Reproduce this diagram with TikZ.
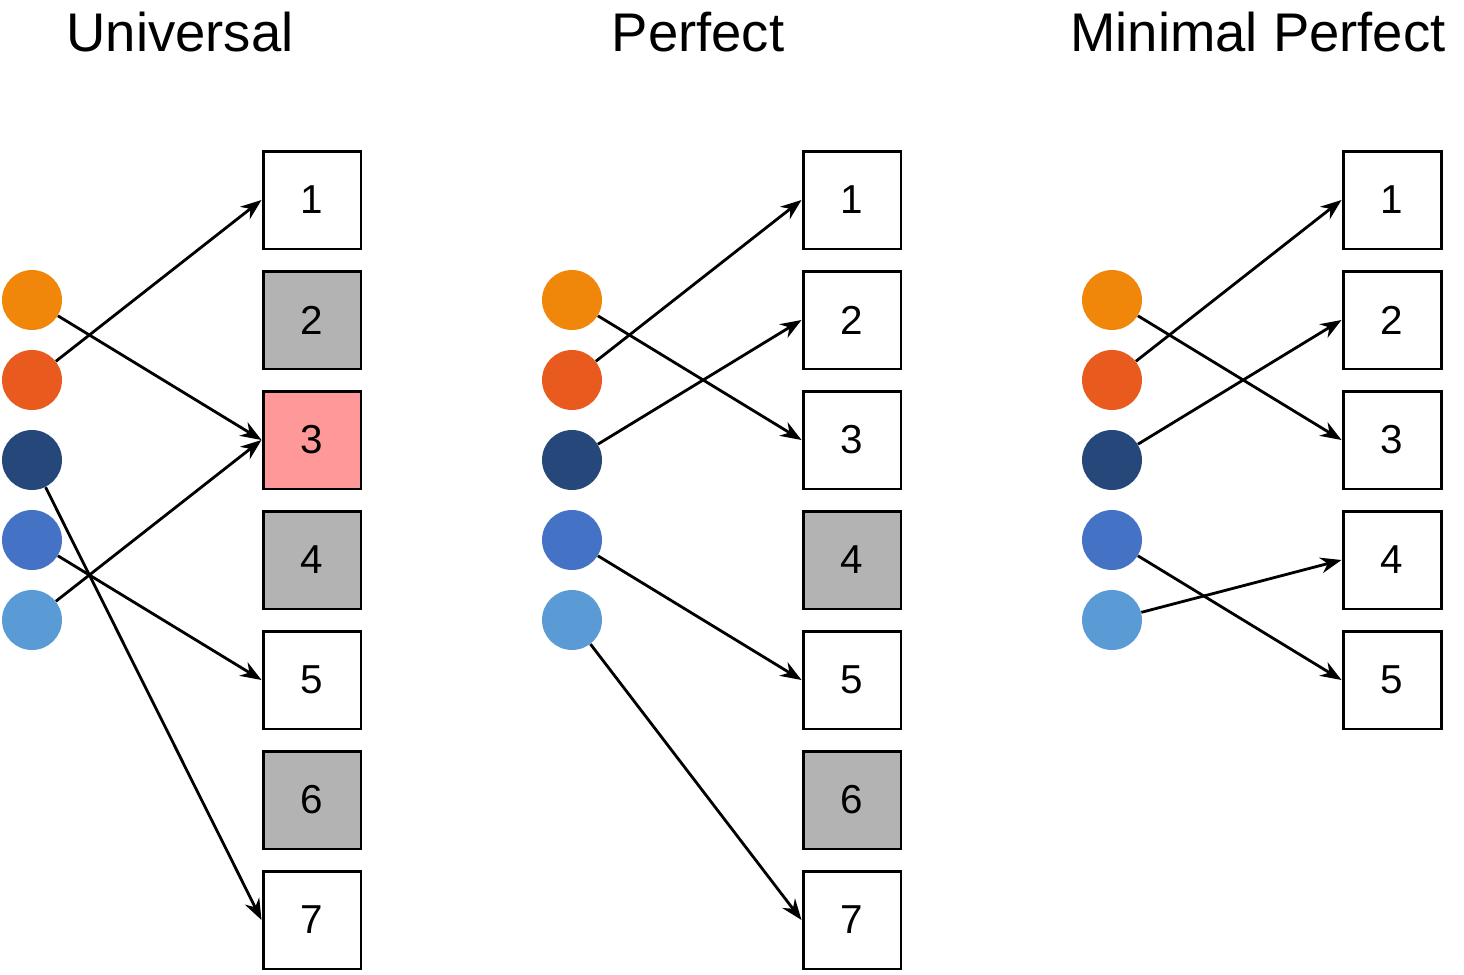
\documentclass[tikz,border=0pt]{standalone}
\usepackage{fontspec}
\setmainfont{Liberation Sans}
\usetikzlibrary{arrows.meta}
\definecolor{kOrange}{RGB}{240,135,10}
\definecolor{kRed}{RGB}{233,90,30}
\definecolor{kNavy}{RGB}{38,71,122}
\definecolor{kBlue}{RGB}{68,114,196}
\definecolor{kLight}{RGB}{91,155,213}
\definecolor{slotGray}{RGB}{179,179,179}
\definecolor{slotPink}{RGB}{255,153,153}
\begin{document}
\begin{tikzpicture}[x=0.02cm, y=-0.02cm]
  \tikzset{slot/.style={draw, line width=1.7pt, minimum size=1.96cm, inner sep=0pt, font=\fontsize{23}{26}\selectfont},
           key/.style={circle, minimum size=1.2cm, inner sep=0pt},
           title/.style={font=\fontsize{31}{36}\selectfont},
           normal arrow/.style={-{Stealth[length=12pt,width=9pt]}, line width=1.6pt}}
  \useasboundingbox (0,0) rectangle (1464,974);

  % titles
  \node[title] (tU) at (180,32) {Universal};
  \node[title] (tP) at (698,32) {Perfect};
  \node[title] (tM) at (1258,32) {Minimal Perfect};

  % keys
  \foreach \p/\x in {U/32,P/572,M/1112}{
    \node[key, fill=kOrange] (\p a) at (\x,300) {};
    \node[key, fill=kRed]    (\p b) at (\x,380) {};
    \node[key, fill=kNavy]   (\p c) at (\x,460) {};
    \node[key, fill=kBlue]   (\p d) at (\x,540) {};
    \node[key, fill=kLight]  (\p e) at (\x,620) {};
  }

  % slots
  \foreach \i/\f in {1/white,2/slotGray,3/slotPink,4/slotGray,5/white,6/slotGray,7/white}
    \node[slot, fill=\f] (U\i) at (312,80+120*\i) {\i};
  \foreach \i/\f in {1/white,2/white,3/white,4/slotGray,5/white,6/slotGray,7/white}
    \node[slot, fill=\f] (P\i) at (852,80+120*\i) {\i};
  \foreach \i in {1,...,5}
    \node[slot, fill=white] (M\i) at (1392,80+120*\i) {\i};

  % hashes
  \draw[normal arrow] (Ua) -- (U3.west);
  \draw[normal arrow] (Ub) -- (U1.west);
  \draw[normal arrow] (Uc) -- (U7.west);
  \draw[normal arrow] (Ud) -- (U5.west);
  \draw[normal arrow] (Ue) -- (U3.west);

  \draw[normal arrow] (Pa) -- (P3.west);
  \draw[normal arrow] (Pb) -- (P1.west);
  \draw[normal arrow] (Pc) -- (P2.west);
  \draw[normal arrow] (Pd) -- (P5.west);
  \draw[normal arrow] (Pe) -- (P7.west);

  \draw[normal arrow] (Ma) -- (M3.west);
  \draw[normal arrow] (Mb) -- (M1.west);
  \draw[normal arrow] (Mc) -- (M2.west);
  \draw[normal arrow] (Md) -- (M5.west);
  \draw[normal arrow] (Me) -- (M4.west);
\end{tikzpicture}
\end{document}
